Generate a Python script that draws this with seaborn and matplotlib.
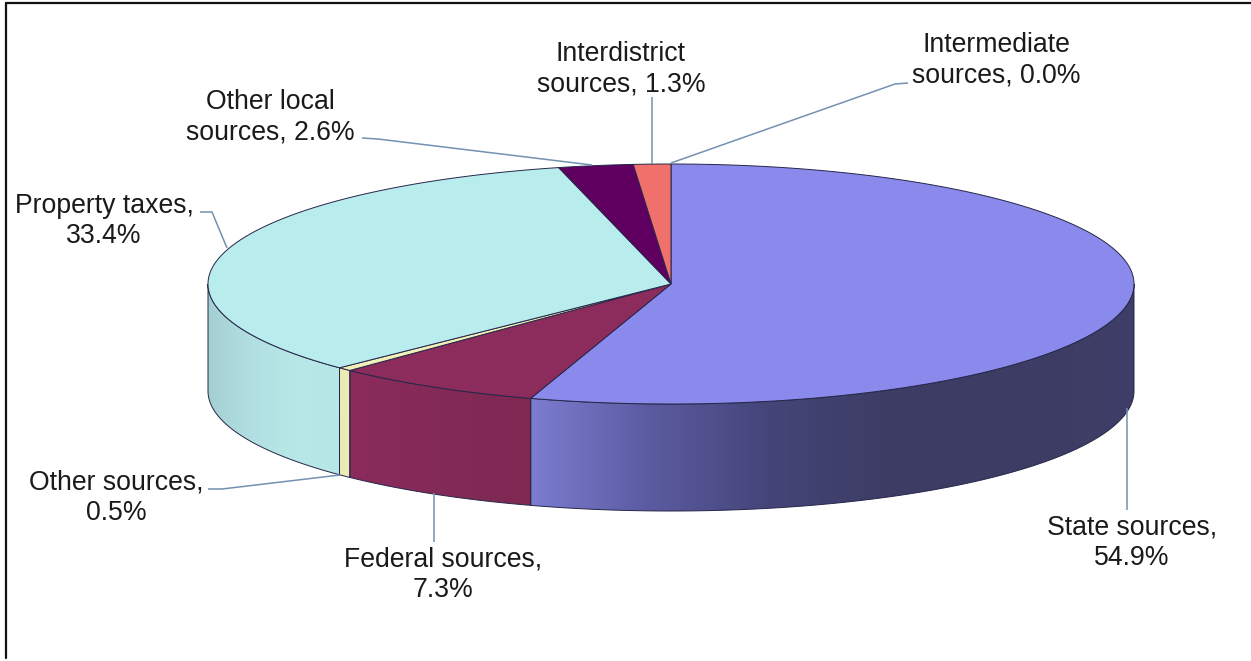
import numpy as np
import matplotlib
matplotlib.use("Agg")
import matplotlib.pyplot as plt
from matplotlib.patches import Polygon
import seaborn as sns

# Revenue shares, clockwise from twelve o'clock
sources = ["State", "Federal", "Other", "Property", "Other local", "Interdistrict", "Intermediate"]
shares = [54.9, 7.3, 0.5, 33.4, 2.6, 1.3, 0.0]
label_templates = [
    "State sources,\n{:.1f}%",
    "Federal sources,\n{:.1f}%",
    "Other sources,\n{:.1f}%",
    "Property taxes,\n{:.1f}%",
    "Other local\nsources, {:.1f}%",
    "Interdistrict\nsources, {:.1f}%",
    "Intermediate\nsources, {:.1f}%",
]
top_colors = ["#8A8AEC", "#8C2C5C", "#F2F0B8", "#B9ECEC", "#5F0060", "#F0706C", "#8A8AEC"]

# Horizontal shading of the rim, one colour ramp per slice
rim_ramps = [
    ["#7C7CD0", "#5A5AA0", "#444478", "#3C3C64", "#3C3C64", "#3E3E68"],
    ["#8A2C5C", "#842A58", "#7E2852"],
    ["#EDEBB4", "#EDEBB4"],
    ["#A4CFD2", "#B2E0E2", "#B8E8E8", "#B6E6E6"],
]

# Layout of the disc in figure pixels
CX, CY, RX, RY, DEPTH = 671, 284, 463, 120, 107
EDGE = "#26264A"
LEADER = "#7391B0"
TEXT = "#1A1A1A"

# Leader polylines and label centres, in slice order
leaders = [
    [(1127, 408), (1127, 510)],
    [(434, 493), (434, 542)],
    [(208, 489), (222, 489), (340, 475)],
    [(200, 212), (212, 212), (227, 248)],
    [(362, 138), (378, 139), (592, 165)],
    [(652, 97), (652, 164)],
    [(671, 163), (895, 84), (908, 83)],
]
label_centres = [(1132, 543), (443, 575), (116, 498), (104, 221),
                 (270, 117), (621, 69), (996, 60)]

sns.set_theme(style="white")
plt.rcParams["font.family"] = ["Liberation Sans", "DejaVu Sans"]

fig = plt.figure(figsize=(12.51, 6.61), dpi=100, facecolor="white")
ax = fig.add_axes([0, 0, 1, 1])
ax.set_xlim(0, 1251)
ax.set_ylim(661, 0)
ax.axis("off")

palette = sns.color_palette(top_colors)
bounds = np.radians(np.cumsum([0.0] + shares) * 3.6)


def rim_xy(theta, drop=0.0):
    return CX + RX * np.sin(theta), CY - RY * np.cos(theta) + drop


def wall_polygon(a, b):
    t = np.linspace(a, b, 200)
    x, y = rim_xy(t)
    xb, yb = rim_xy(t[::-1], DEPTH)
    return np.column_stack([np.r_[x, xb], np.r_[y, yb]])


# Visible outer wall: the front half of the disc, from pi/2 to 3*pi/2
for i, ramp in enumerate(rim_ramps):
    a = max(bounds[i], np.pi / 2)
    b = min(bounds[i + 1], 3 * np.pi / 2)
    pts = wall_polygon(a, b)
    outline = Polygon(pts, closed=True, fc="none", ec=EDGE, lw=0.7, zorder=3)
    ax.add_patch(outline)
    x0, x1 = pts[:, 0].min(), pts[:, 0].max()
    y0, y1 = pts[:, 1].min(), pts[:, 1].max()
    cmap = sns.blend_palette(ramp, as_cmap=True)
    shade = ax.imshow(np.linspace(0, 1, 256)[None, :], cmap=cmap, aspect="auto",
                      extent=(x0, x1, y1, y0), zorder=2)
    shade.set_clip_path(outline)
ax.set_xlim(0, 1251)
ax.set_ylim(661, 0)

# Top face, one wedge per source
for i, share in enumerate(shares):
    if share <= 0:
        continue
    t = np.linspace(bounds[i], bounds[i + 1], 200)
    x, y = rim_xy(t)
    pts = np.column_stack([np.r_[CX, x], np.r_[CY, y]])
    ax.add_patch(Polygon(pts, closed=True, fc=palette[i], ec=EDGE, lw=0.7, zorder=4))

# Leader lines and labels
for path, centre, tmpl, share in zip(leaders, label_centres, label_templates, shares):
    xs, ys = zip(*path)
    ax.plot(xs, ys, color=LEADER, lw=1.1, zorder=5, solid_capstyle="butt")
    ax.text(*centre, tmpl.format(share), ha="center", va="center", ma="center",
            fontsize=19.2, color=TEXT, linespacing=1.22, zorder=6)

# Chart-area frame along the top and left
ax.plot([6, 6], [658, 3], color="#111111", lw=1.6, zorder=7)
ax.plot([6, 1251], [3, 3], color="#111111", lw=1.6, zorder=7)

fig.savefig("out.png", dpi=100)
